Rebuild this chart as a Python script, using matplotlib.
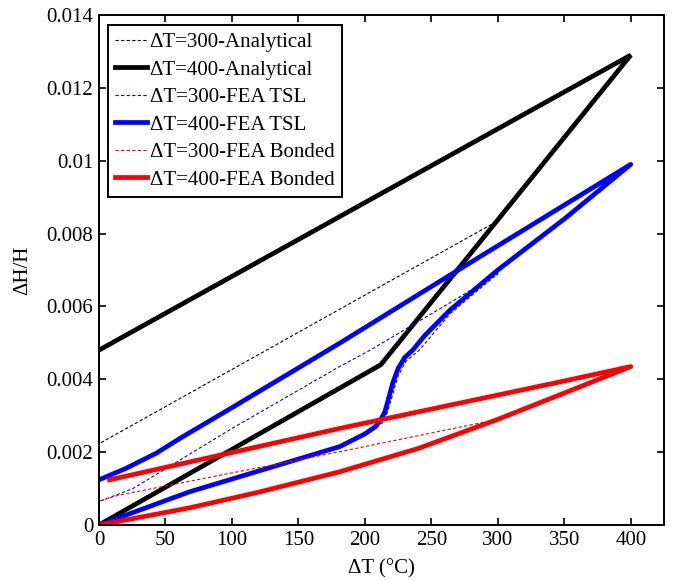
import matplotlib
matplotlib.use("Agg")
import matplotlib.pyplot as plt
import numpy as np

plt.rcParams['font.family'] = ['Liberation Serif', 'DejaVu Serif']
plt.rcParams['mathtext.fontset'] = 'stix'

# Delta T = 300, analytical (loading branch then unloading branch)
an300_x = [0, 212, 300, 0]
an300_y = [0.0, 0.0044, 0.00835, 0.00223]

# Delta T = 400, analytical
an400_x = [0, 212, 400, 0]
an400_y = [0.0, 0.0044, 0.0129, 0.0048]

# Delta T = 300, FEA with traction-separation law
tsl300_x = [0, 68, 181, 205, 213, 217, 221, 225, 231, 241, 264, 300,
            264, 204, 181, 100, 26, 0]
tsl300_y = [0.0, 0.0009, 0.00215, 0.0026, 0.0028, 0.0031, 0.0036, 0.0041,
            0.0045, 0.0048, 0.0058, 0.0069,
            0.0061, 0.0048, 0.00435, 0.00265, 0.00101, 0.00064]

# Delta T = 400, FEA with traction-separation law
tsl400_x = [0, 68, 181, 200, 208, 212, 215, 218, 221, 225, 230, 236, 245,
            264, 300, 350, 400,
            264, 181, 100, 61, 43, 20, 0]
tsl400_y = [0.0, 0.00091, 0.00215, 0.0025, 0.0027, 0.0029, 0.0031, 0.0035,
            0.0039, 0.0043, 0.0046, 0.0048, 0.0052,
            0.0059, 0.0070, 0.0084, 0.0099,
            0.00686, 0.00499, 0.00322, 0.00238, 0.00197, 0.00155, 0.00124]

# Delta T = 300, FEA bonded
bond300_x = [0, 68, 120, 181, 240, 300, 181, 15, 0]
bond300_y = [0.0, 0.00047, 0.0009, 0.00146, 0.0021, 0.0029,
             0.00201, 0.00082, 0.00066]

# Delta T = 400, FEA bonded
bond400_x = [0, 68, 120, 181, 240, 300, 356, 400, 347, 181, 8]
bond400_y = [0.0, 0.00047, 0.0009, 0.00146, 0.0021, 0.0029, 0.00371, 0.00435,
             0.00393, 0.00265, 0.00124]

labels = ['ΔT=300-Analytical', 'ΔT=400-Analytical',
          'ΔT=300-FEA TSL', 'ΔT=400-FEA TSL',
          'ΔT=300-FEA Bonded', 'ΔT=400-FEA Bonded']

xticks = [0, 50, 100, 150, 200, 250, 300, 350, 400]
yticks = [0, 0.002, 0.004, 0.006, 0.008, 0.01, 0.012, 0.014]
ytick_labels = ['0', '0.002', '0.004', '0.006', '0.008', '0.01', '0.012', '0.014']

fig = plt.figure(figsize=(6.78, 5.80), dpi=100)
ax = fig.add_axes([99 / 678, 55 / 580, 565 / 678, 510 / 580])

thin = 0.8
thick = 3.4
dash = (0, (3, 2))

ax.plot(an300_x, an300_y, color='black', lw=thin, ls=dash, label=labels[0])
ax.plot(an400_x, an400_y, color='black', lw=thick, solid_joinstyle='miter', label=labels[1])
ax.plot(tsl300_x, tsl300_y, color='blue', lw=thin, ls=dash, label=labels[2])
ax.plot(tsl400_x, tsl400_y, color='blue', lw=thick, label=labels[3])
ax.plot(bond300_x, bond300_y, color='red', lw=thin, ls=dash, label=labels[4])
ax.plot(bond400_x, bond400_y, color='red', lw=thick, label=labels[5])

ax.set_xlim(0, 425)
ax.set_ylim(0, 0.014)
ax.set_xticks(xticks)
ax.set_xticklabels([str(v) for v in xticks])
ax.set_yticks(yticks)
ax.set_yticklabels(ytick_labels)
ax.tick_params(direction='in', top=True, right=True, length=5, width=1.2,
               labelsize=15, pad=4)
for s in ax.spines.values():
    s.set_linewidth(1.4)

ax.set_xlabel('ΔT (°C)', fontsize=15, labelpad=7)
ax.set_ylabel('ΔH/H', fontsize=15, labelpad=10)

leg = ax.legend(loc='upper left', bbox_to_anchor=(0.016, 0.98), fontsize=15,
                frameon=True, fancybox=False, edgecolor='black', framealpha=1,
                handlelength=1.5, handletextpad=0.15, labelspacing=0.38,
                borderpad=0.35, borderaxespad=0.0)
leg.get_frame().set_linewidth(1.4)

fig.savefig('out.png', dpi=100)
